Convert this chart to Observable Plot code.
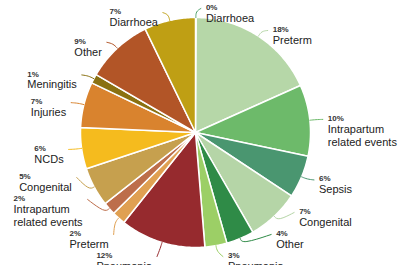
<!DOCTYPE html>
<html><head><meta charset="utf-8">
<script src="https://cdn.jsdelivr.net/npm/d3@7"></script>
<script src="https://cdn.jsdelivr.net/npm/@observablehq/plot@0.6"></script>
<style>html,body{margin:0;padding:0;background:#fff;} #chart svg{display:block;overflow:visible}</style>
</head><body><div id="chart"></div>
<script>
// ---- data (clockwise from 12 o'clock) ----
const causes = ["Diarrhoea","Preterm","Intrapartum\nrelated events","Sepsis","Congenital","Other","Pneumonia",
                "Pneumonia","Preterm","Intrapartum\nrelated events","Congenital","NCDs","Injuries","Meningitis","Other","Diarrhoea"];
const shares = [0.1,18.2,10,6,7.4,3.9,3.1, 12,1.9,1.8,5.5,5.8,6.4,1.3,9.4,7.2];
const shareLabels = ["0%","18%","10%","6%","7%","4%","3%","12%","2%","2%","5%","6%","7%","1%","9%","7%"];
const colors = ["#52a36d","#b6d7a8","#6dba6a","#4a9670","#b5d5a7","#2f8b47","#9ccf66",
                "#962a2e","#e0a052","#bd6e4b","#c6a04e","#f5bb1e","#d9832e","#8a7112","#b25527","#bf9f14"];

// ---- layout ----
const W = 399, H = 265, cx = 195, cy = 132, R = 115;
const total = d3.sum(shares);
let cum = 0;
const slicePts = [], items = [];
shares.forEach((v, i) => {
  const a0 = cum / total * 2 * Math.PI; cum += v;
  const a1 = cum / total * 2 * Math.PI;
  const n = Math.max(2, Math.ceil((a1 - a0) / 0.015));
  slicePts.push({id: i, x: cx, y: cy, color: colors[i]});
  for (let k = 0; k <= n; k++) {
    const a = a0 + (a1 - a0) * k / n;
    slicePts.push({id: i, x: cx + R * Math.sin(a), y: cy - R * Math.cos(a), color: colors[i]});
  }
  slicePts.push({id: i, x: cx, y: cy, color: colors[i]});
  const m = (a0 + a1) / 2;
  const dir = {x: Math.sin(m), y: -Math.cos(m)};
  const side = dir.x >= 0 ? 1 : -1;
  const lines = causes[i].split("\n").length;
  items.push({i, m, dir, side, P: {x: cx + R * dir.x, y: cy + R * dir.y},
              nat: cy + (R + 8) * dir.y, h: 9 + 13 * lines});
});
items.forEach(d => d.y = d.nat);
const maxY = 256;
[1, -1].forEach(s => {
  const arr = items.filter(d => d.side === s).sort((a, b) => a.nat - b.nat);
  for (let it = 0; it < 800; it++) {
    for (let k = 1; k < arr.length; k++) {
      const a = arr[k - 1], b = arr[k];
      const d = b.y - a.y;
      if (d < a.h) { const o = (a.h - d) / 2; a.y -= o; b.y += o; }
    }
    arr.forEach(d => { if (d.y > maxY) d.y = maxY; });
  }
});
const ctx = document.createElement("canvas").getContext("2d");
function tw(t, font) { ctx.font = font; return ctx.measureText(t).width; }
const FONT = "'Liberation Sans', Arial, sans-serif";
const leaderPts = [], labels = [];
items.forEach(d => {
  let ex;
  if (Math.abs(d.y - d.nat) <= 2) ex = d.P.x + d.dir.x * 8 + d.side * 5;
  else {
    const e = (R + 12) ** 2 - (d.y - cy) ** 2;
    const ellX = e > 0 ? Math.sqrt(e) : 0;
    ex = cx + d.side * Math.max(Math.abs(d.P.x - cx) + 5, ellX);
  }
  const ey = d.y;
  const c = colors[d.i];
  leaderPts.push({id: d.i, x: d.P.x, y: d.P.y, color: c});
  leaderPts.push({id: d.i, x: d.P.x + d.dir.x * 6, y: d.P.y + d.dir.y * 6, color: c});
  leaderPts.push({id: d.i, x: ex, y: ey, color: c});
  const name = causes[d.i], pct = shareLabels[d.i];
  const bw = Math.max(tw(pct, "bold 8px " + FONT), ...name.split("\n").map(t => tw(t, "11px " + FONT)));
  const tx = d.side > 0 ? ex + 5 : ex - 5 - bw;
  labels.push({tx, py: ey - 1, ny: ey + 4, pct, name});
});

const chart = Plot.plot({
  width: W, height: H, margin: 0,
  x: {domain: [0, W], range: [0, W], axis: null},
  y: {domain: [0, H], range: [0, H], axis: null},
  color: {type: "identity"},
  style: {fontFamily: FONT, background: "white", overflow: "visible"},
  marks: [
    Plot.line(slicePts, {x: "x", y: "y", z: "id", fill: "color", stroke: "white", strokeWidth: 1.5, strokeLinejoin: "round"}),
    Plot.line(leaderPts, {x: "x", y: "y", z: "id", stroke: "color", strokeWidth: 1, curve: "basis"}),
    Plot.text(labels, {x: "tx", y: "py", text: "pct", textAnchor: "start", fontSize: 8, fontWeight: "bold", fill: "#333"}),
    Plot.text(labels, {x: "tx", y: "ny", text: "name", textAnchor: "start", lineAnchor: "top", fontSize: 11, lineHeight: 1.18, fill: "#222"})
  ]
});
document.getElementById("chart").appendChild(chart);
</script>
</body></html>
